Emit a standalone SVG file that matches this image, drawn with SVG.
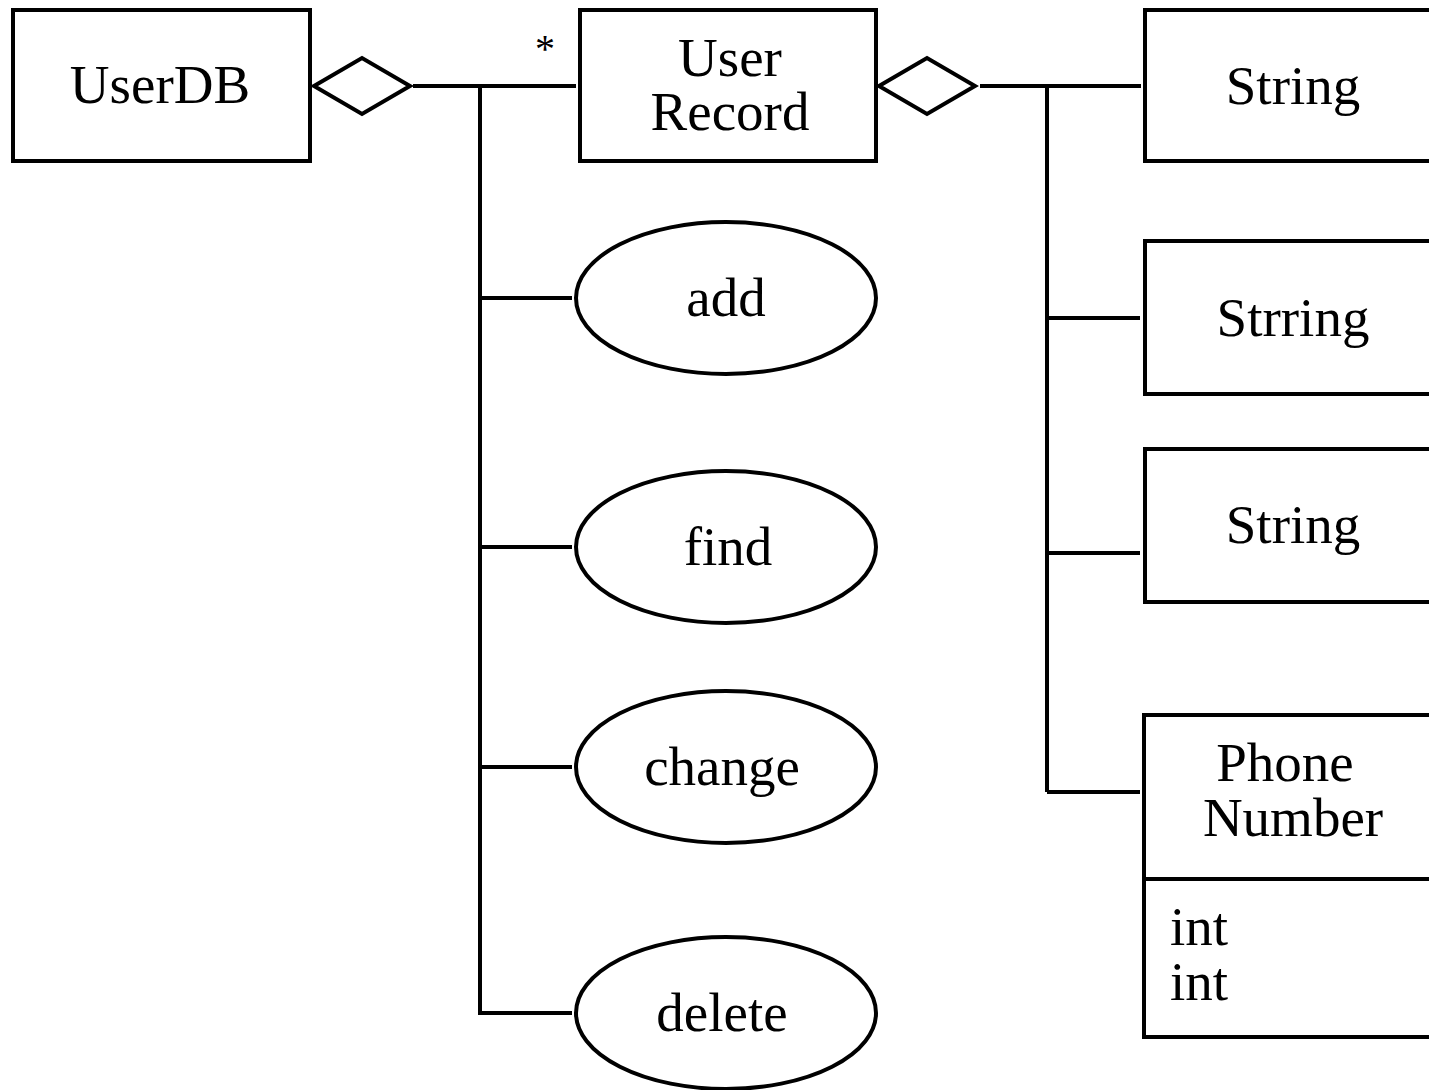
<svg xmlns="http://www.w3.org/2000/svg" width="1429" height="1090" viewBox="0 0 1429 1090">
  <style>
    .box { fill: #fff; stroke: #000; stroke-width: 4; }
    .wire { fill: none; stroke: #000; stroke-width: 4; }
    .lbl { font-family: "Liberation Serif", "Times New Roman", serif; font-size: 55px; fill: #000; }
    .mid { text-anchor: middle; }
  </style>
  <rect width="1429" height="1090" fill="#fff"/>

  <g id="connectors">
    <!-- UserDB aggregation -->
    <polygon class="wire" points="314,86 362,58 410,86 362,114"/>
    <line class="wire" x1="413" y1="86" x2="576" y2="86"/>
    <line class="wire" x1="480" y1="86" x2="480" y2="1015"/>
    <line class="wire" x1="480" y1="298" x2="572" y2="298"/>
    <line class="wire" x1="480" y1="547" x2="572" y2="547"/>
    <line class="wire" x1="480" y1="767" x2="572" y2="767"/>
    <line class="wire" x1="480" y1="1013" x2="572" y2="1013"/>
    <text class="lbl" x="545" y="62" style="font-size:40px" text-anchor="middle">*</text>
    <!-- User Record aggregation -->
    <polygon class="wire" points="879,86 927,58 975,86 927,114"/>
    <line class="wire" x1="980" y1="86" x2="1141" y2="86"/>
    <line class="wire" x1="1047" y1="86" x2="1047" y2="792"/>
    <line class="wire" x1="1047" y1="318" x2="1140" y2="318"/>
    <line class="wire" x1="1047" y1="553" x2="1140" y2="553"/>
    <line class="wire" x1="1047" y1="792" x2="1140" y2="792"/>
  </g>

  <g id="userdb">
    <rect class="box" x="13" y="10" width="297" height="151"/>
    <text class="lbl mid" x="160" y="103">UserDB</text>
  </g>

  <g id="user-record">
    <rect class="box" x="580" y="10" width="296" height="151"/>
    <text class="lbl mid" x="730" y="76">User</text>
    <text class="lbl mid" x="730" y="130">Record</text>
  </g>

  <g id="op-add">
    <ellipse class="box" cx="726" cy="298" rx="150" ry="76"/>
    <text class="lbl mid" x="726" y="316">add</text>
  </g>
  <g id="op-find">
    <ellipse class="box" cx="726" cy="547" rx="150" ry="76"/>
    <text class="lbl mid" x="728" y="565">find</text>
  </g>
  <g id="op-change">
    <ellipse class="box" cx="726" cy="767" rx="150" ry="76"/>
    <text class="lbl mid" x="722" y="785">change</text>
  </g>
  <g id="op-delete">
    <ellipse class="box" cx="726" cy="1013" rx="150" ry="76"/>
    <text class="lbl mid" x="722" y="1031">delete</text>
  </g>

  <g id="string-1">
    <rect class="box" x="1145" y="10" width="300" height="151"/>
    <text class="lbl mid" x="1293" y="104">String</text>
  </g>
  <g id="string-2">
    <rect class="box" x="1145" y="241" width="300" height="153"/>
    <text class="lbl mid" x="1293" y="336">Strring</text>
  </g>
  <g id="string-3">
    <rect class="box" x="1145" y="449" width="300" height="153"/>
    <text class="lbl mid" x="1293" y="543">String</text>
  </g>

  <g id="phone-number">
    <rect class="box" x="1144" y="715" width="300" height="322"/>
    <line class="wire" x1="1144" y1="879" x2="1444" y2="879"/>
    <text class="lbl mid" x="1285" y="781">Phone</text>
    <text class="lbl mid" x="1293" y="836">Number</text>
    <text class="lbl" x="1170" y="945">int</text>
    <text class="lbl" x="1170" y="1000">int</text>
  </g>
</svg>
